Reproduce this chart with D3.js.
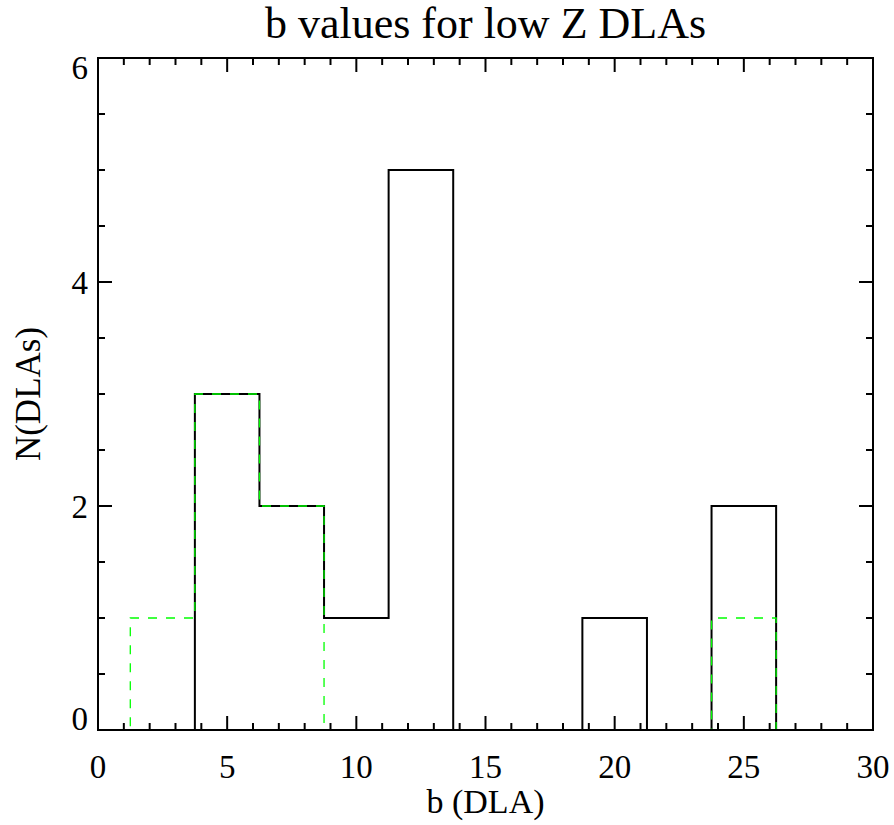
<!DOCTYPE html>
<html>
<head>
<meta charset="utf-8">
<script src="https://cdn.jsdelivr.net/npm/d3@7"></script>
<style>
  html, body { margin: 0; padding: 0; background: #fff; }
  svg { display: block; }
</style>
</head>
<body>
<svg id="chart"></svg>
<script>
const WIDTH = 894;
const HEIGHT = 825;
const FONT = "'Liberation Serif', 'Times New Roman', Times, 'DejaVu Serif', serif";

// bin centres (bin width 2.5) and counts per bin
const binCenters = [0, 2.5, 5, 7.5, 10, 12.5, 15, 17.5, 20, 22.5, 25, 27.5, 30];
const allCounts = [0, 0, 3, 2, 1, 5, 0, 0, 1, 0, 2, 0, 0];
const subsetCounts = [0, 1, 3, 2, 0, 0, 0, 0, 0, 0, 1, 0, 0];

const xTicks = [0, 5, 10, 15, 20, 25, 30];
const yTicks = [0, 2, 4, 6];

const margin = { top: 58, right: 21, bottom: 95, left: 98 };

const svg = d3.select('#chart')
    .attr('width', WIDTH)
    .attr('height', HEIGHT)
    .attr('font-family', FONT);

const x = d3.scaleLinear().domain([0, 30]).range([margin.left, WIDTH - margin.right]);
const y = d3.scaleLinear().domain([0, 6]).range([HEIGHT - margin.bottom, margin.top]);

const x0 = x.range()[0], x1 = x.range()[1];
const y0 = y.range()[0], y1 = y.range()[1];

// histogram steps (IDL psym=10 style)
const step = d3.line()
    .x(d => x(d[0]))
    .y(d => y(d[1]))
    .curve(d3.curveStep);

svg.append('path')
    .attr('d', step(binCenters.map((c, i) => [c, allCounts[i]])))
    .attr('fill', 'none')
    .attr('stroke', '#000')
    .attr('stroke-width', 2);

svg.append('path')
    .attr('d', step(binCenters.map((c, i) => [c, subsetCounts[i]])))
    .attr('fill', 'none')
    .attr('stroke', '#00ff00')
    .attr('stroke-width', 1.3)
    .attr('stroke-dasharray', '9,9');

// frame
svg.append('rect')
    .attr('x', x0)
    .attr('y', y1)
    .attr('width', x1 - x0)
    .attr('height', y0 - y1)
    .attr('fill', 'none')
    .attr('stroke', '#000')
    .attr('stroke-width', 2);

const MAJOR = 14, MINOR = 7;
const ticks = svg.append('g')
    .attr('stroke', '#000')
    .attr('stroke-width', 2);

d3.range(0, 31, 1).forEach(v => {
    const len = v % 5 === 0 ? MAJOR : MINOR;
    ticks.append('line').attr('x1', x(v)).attr('x2', x(v)).attr('y1', y0).attr('y2', y0 - len);
    ticks.append('line').attr('x1', x(v)).attr('x2', x(v)).attr('y1', y1).attr('y2', y1 + len);
});

d3.range(0, 6.01, 0.5).forEach(v => {
    const len = v % 2 === 0 ? MAJOR : MINOR;
    ticks.append('line').attr('y1', y(v)).attr('y2', y(v)).attr('x1', x0).attr('x2', x0 + len);
    ticks.append('line').attr('y1', y(v)).attr('y2', y(v)).attr('x1', x1).attr('x2', x1 - len);
});

// tick labels
svg.append('g')
    .selectAll('text')
    .data(xTicks)
    .join('text')
    .attr('x', d => x(d))
    .attr('y', y0 + 48)
    .attr('text-anchor', 'middle')
    .attr('font-size', 33)
    .text(d => d);

svg.append('g')
    .selectAll('text')
    .data(yTicks)
    .join('text')
    .attr('x', x0 - 10)
    .attr('y', d => {
        let cy = y(d);
        if (d === 0) cy -= 12;
        if (d === 6) cy += 9;
        return cy + 12;
    })
    .attr('text-anchor', 'end')
    .attr('font-size', 33)
    .text(d => d);

// titles
svg.append('text')
    .attr('x', (x0 + x1) / 2)
    .attr('y', 38)
    .attr('text-anchor', 'middle')
    .attr('font-size', 44)
    .text('b values for low Z DLAs');

svg.append('text')
    .attr('x', (x0 + x1) / 2)
    .attr('y', 813)
    .attr('text-anchor', 'middle')
    .attr('font-size', 34)
    .text('b (DLA)');

svg.append('text')
    .attr('transform', `translate(40,${(y0 + y1) / 2}) rotate(-90)`)
    .attr('text-anchor', 'middle')
    .attr('font-size', 35)
    .text('N(DLAs)');
</script>
</body>
</html>
